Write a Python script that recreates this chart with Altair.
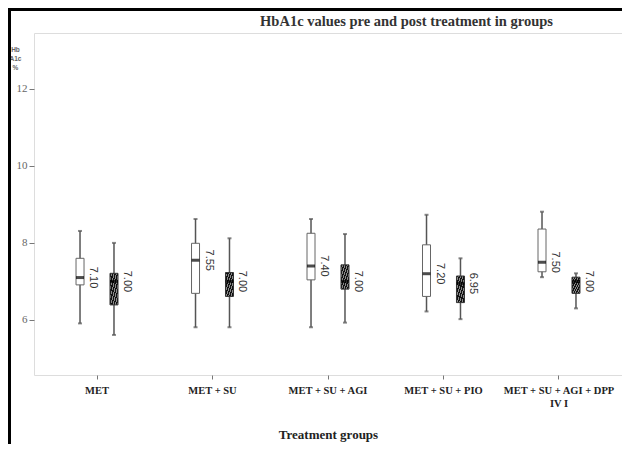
import altair as alt
import pandas as pd

groups = ["MET", "MET + SU", "MET + SU + AGI", "MET + SU + PIO", "MET + SU + AGI + DPP IV I"]
phases = ["pre", "post"]

pre_min = [5.91, 5.81, 5.81, 6.22, 7.11]
pre_q1 = [6.91, 6.69, 7.04, 6.61, 7.25]
pre_med = [7.10, 7.55, 7.40, 7.20, 7.50]
pre_q3 = [7.60, 7.99, 8.25, 7.95, 8.36]
pre_max = [8.31, 8.62, 8.62, 8.73, 8.81]

post_min = [5.61, 5.81, 5.93, 6.02, 6.30]
post_q1 = [6.39, 6.61, 6.80, 6.45, 6.69]
post_med = [7.00, 7.00, 7.00, 6.95, 7.00]
post_q3 = [7.21, 7.23, 7.43, 7.14, 7.11]
post_max = [8.00, 8.12, 8.23, 7.60, 7.21]

y_ticks = [6, 8, 10, 12]
title_text = ["HbA1c values pre and post treatment in groups"]

rows = []
for i, g in enumerate(groups):
    rows.append(dict(group=g, phase="pre", lo=pre_min[i], q1=pre_q1[i], med=pre_med[i],
                     q3=pre_q3[i], hi=pre_max[i], label=f"{pre_med[i]:.2f}"))
    rows.append(dict(group=g, phase="post", lo=post_min[i], q1=post_q1[i], med=post_med[i],
                     q3=post_q3[i], hi=post_max[i], label=f"{post_med[i]:.2f}"))
df = pd.DataFrame(rows)

x_enc = alt.X("group:N", sort=groups,
              scale=alt.Scale(type="band", paddingInner=0, paddingOuter=0.0455),
              title="Treatment groups",
              axis=alt.Axis(labelAngle=0, labelFont="Liberation Serif", labelFontWeight="bold",
                            labelFontSize=10.5, labelColor="#222", labelLineHeight=13,
                            labelBaseline="top", labelPadding=6,
                            labelExpr="datum.label == 'MET + SU + AGI + DPP IV I' ? ['MET + SU + AGI + DPP', 'IV I'] : datum.label",
                            tickSize=4, tickColor="#777", domain=False,
                            titleFont="Liberation Serif", titleFontWeight="bold", titleFontSize=13,
                            titleColor="#222", titlePadding=20))
xo_enc = alt.XOffset("phase:N", sort=phases,
                     scale=alt.Scale(type="band", paddingInner=0, paddingOuter=0.7))
y_scale = alt.Scale(domain=[4.57, 13.45], nice=False, zero=False)
y_enc = alt.Y("lo:Q", scale=y_scale,
              axis=alt.Axis(values=y_ticks, grid=False, domain=False, tickSize=5, tickColor="#777",
                            labelColor="#666", labelFont="Liberation Serif", labelFontSize=11,
                            labelPadding=2,
                            title=["Hb", "A1c", "%"], titleAngle=0, titleAlign="center",
                            titleBaseline="top", titleX=-19, titleY=13, titleFontSize=6.5,
                            titleFont="Liberation Sans", titleFontWeight="bold",
                            titleColor="#666", titleLineHeight=9))

base = alt.Chart(df)

whisker = base.mark_rule(color="#555", strokeWidth=1.5).encode(
    x=x_enc, xOffset=xo_enc, y=y_enc, y2="hi:Q")

caps_lo = base.mark_tick(color="#555", size=4, thickness=2).encode(
    x=x_enc, xOffset=xo_enc, y=alt.Y("lo:Q", scale=y_scale))
caps_hi = base.mark_tick(color="#555", size=4, thickness=2).encode(
    x=x_enc, xOffset=xo_enc, y=alt.Y("hi:Q", scale=y_scale))

pre_box = base.transform_filter("datum.phase == 'pre'").mark_bar(
    size=8, fill="white", stroke="#666", strokeWidth=1).encode(
    x=x_enc, xOffset=xo_enc, y=alt.Y("q1:Q", scale=y_scale), y2="q3:Q")

stops = []
n = 7
for k in range(n):
    a = k / n
    b = (k + 0.6) / n
    c = (k + 1) / n
    stops += [alt.GradientStop(color="#111111", offset=a),
              alt.GradientStop(color="#111111", offset=b),
              alt.GradientStop(color="#8a8a8a", offset=b),
              alt.GradientStop(color="#8a8a8a", offset=c)]
hatch = alt.Gradient(gradient="linear", stops=stops, x1=0, y1=0, x2=1, y2=1)

post_box = base.transform_filter("datum.phase == 'post'").mark_bar(
    size=8, fill=hatch, stroke="#333", strokeWidth=1).encode(
    x=x_enc, xOffset=xo_enc, y=alt.Y("q1:Q", scale=y_scale), y2="q3:Q")

median = base.mark_tick(color="black", size=8, thickness=3).encode(
    x=x_enc, xOffset=xo_enc, y=alt.Y("med:Q", scale=y_scale))

labels = base.mark_text(angle=90, align="center", baseline="middle", dy=-13,
                        font="Liberation Sans", fontSize=11, color="#333").encode(
    x=x_enc, xOffset=xo_enc, y=alt.Y("med:Q", scale=y_scale), text="label:N")

one = alt.Chart(pd.DataFrame({"k": [0]}))
title_mark = alt.Chart(pd.DataFrame({"t": title_text})).mark_text(
    font="Liberation Serif", fontWeight="bold", fontSize=14.5, color="#333",
    align="center", baseline="middle").encode(
    x=alt.value(372.5), y=alt.value(-11), text="t:N")
border_left = one.mark_rule(color="black", strokeWidth=3).encode(
    x=alt.value(-24.5), y=alt.value(-25), y2=alt.value(411))
border_top = one.mark_rule(color="black", strokeWidth=3).encode(
    y=alt.value(-23.5), x=alt.value(-26), x2=alt.value(596))

chart = alt.layer(whisker, caps_lo, caps_hi, pre_box, post_box, median, labels,
                  title_mark, border_left, border_top).properties(
    width=588, height=342,
    autosize=alt.AutoSizeParams(type="none"),
    padding={"left": 26, "top": 25, "right": 0, "bottom": 69},
).configure_view(stroke="#7a7a7a", strokeWidth=2.5).configure(background="white")

chart.save("out.html", embed_options={"renderer": "svg", "actions": False})
